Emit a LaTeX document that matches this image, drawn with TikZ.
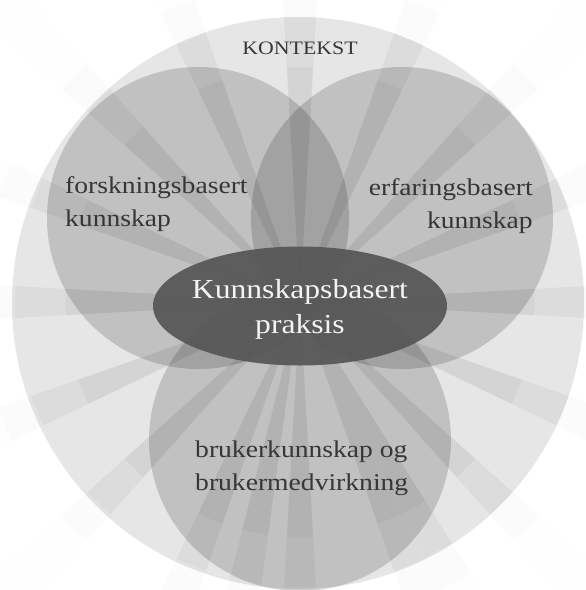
\documentclass[tikz,border=0pt]{standalone}
\usepackage{fontspec}
\setmainfont{Liberation Serif}
\newfontfamily\labfont[FakeStretch=1.15]{Liberation Serif}
\usetikzlibrary{shapes.geometric}
\definecolor{ctxgray}{HTML}{E6E6E6}
\definecolor{corefill}{HTML}{565656}
\definecolor{labtext}{HTML}{363636}
\definecolor{coretext}{HTML}{F4F4F4}
\begin{document}
\begin{tikzpicture}[x=1pt,y=-1pt,
  ctxcircle/.style={circle, fill=ctxgray, inner sep=0pt, minimum size=572pt},
  bubble/.style={circle, fill=black, fill opacity=0.155, inner sep=0pt, minimum size=302pt},
  core/.style={ellipse, fill=corefill, fill opacity=0.93, inner sep=0pt, minimum width=294pt, minimum height=119pt},
  rayin/.style={fill=black, opacity=0.075},
  raymid/.style={fill=black, opacity=0.045},
  rayout/.style={fill=black, opacity=0.015},
  rayfar/.style={fill=black, opacity=0.005},
  lab/.style={font=\labfont\fontsize{24}{33}\selectfont, text=labtext, inner sep=0pt},
  ctxlab/.style={font=\labfont\fontsize{19}{22}\selectfont, text=labtext, inner sep=0pt},
  corelab/.style={font=\labfont\fontsize{27.5}{35}\selectfont, text=coretext, inner sep=0pt, align=center}
]
\useasboundingbox (0,0) rectangle (586,590);
\clip (0,0) rectangle (586,590);
\fill[white] (0,0) rectangle (586,590);
% context circle
\node[ctxcircle] (ctx) at (298,303) {};
% three knowledge circles
\node[bubble] (fk) at (198,218) {};
\node[bubble] (ek) at (402,218) {};
\node[bubble] (bk) at (300,440) {};
% rays
\begin{scope}[shift={(300,302)}]
\foreach \a in {0,22.5,...,337.5,61,101} {
  \pgfmathsetmacro{\lo}{\a-3.2}
  \pgfmathsetmacro{\hi}{\a+3.2}
  \fill[rayin] (0,0) -- (\lo:235) -- (\hi:235) -- cycle;
  \fill[raymid] (\lo:235) -- (\lo:285) -- (\hi:285) -- (\hi:235) -- cycle;
  \fill[rayout] (\lo:285) -- (\lo:320) -- (\hi:320) -- (\hi:285) -- cycle;
  \fill[rayfar] (\lo:320) -- (\lo:420) -- (\hi:420) -- (\hi:320) -- cycle;
}
\end{scope}
% central ellipse
\node[core] (kp) at (300,306) {};
% labels
\node[ctxlab, anchor=base] (tctx) at (300,54) {KONTEKST};
\node[lab, align=left, anchor=base west] (tfk) at (65,226) {forskningsbasert\\kunnskap};
\node[lab, align=right, anchor=base east] (tek) at (533,228) {erfaringsbasert\\kunnskap};
\node[lab, align=left, anchor=base west] (tbk) at (195,490) {brukerkunnskap og\\brukermedvirkning};
\node[corelab, anchor=base] (tkp) at (300,333) {Kunnskapsbasert\\praksis};
\end{tikzpicture}
\end{document}
